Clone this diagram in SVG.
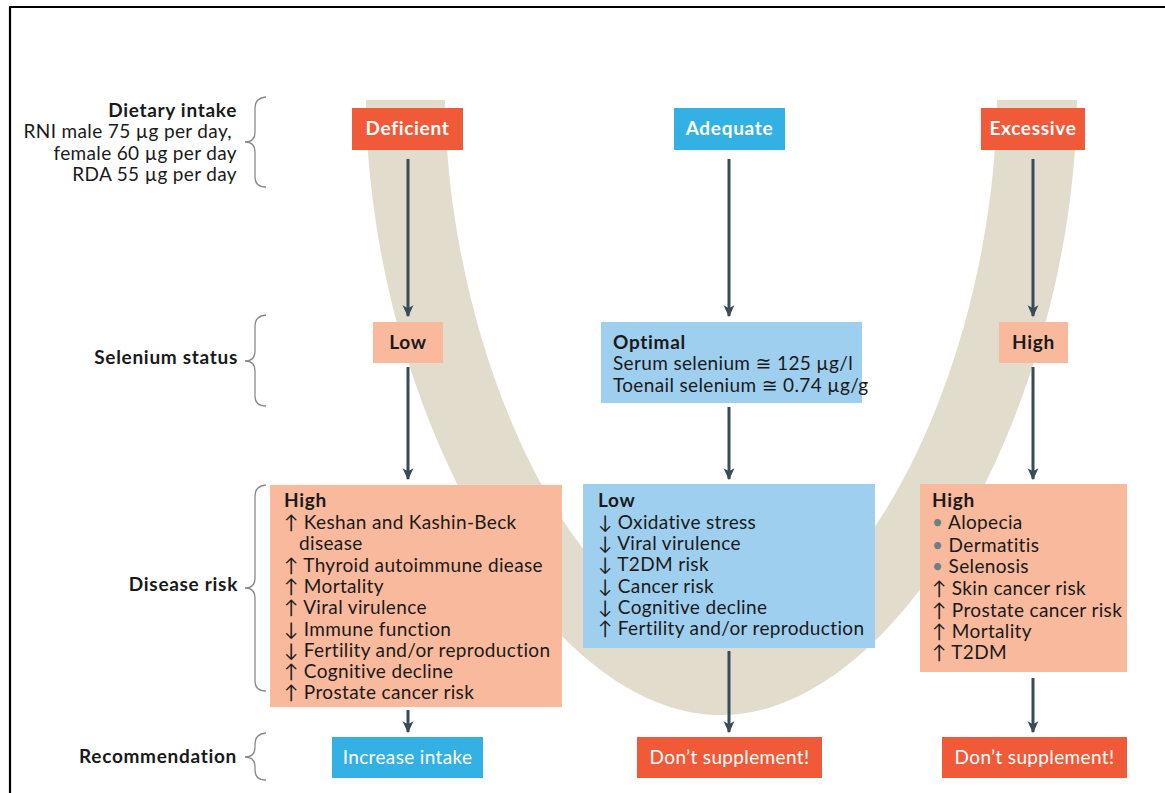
<svg xmlns="http://www.w3.org/2000/svg" width="1165" height="793" viewBox="0 0 1165 793">
<defs>
<marker id="ah" markerUnits="userSpaceOnUse" markerWidth="12" markerHeight="12" viewBox="0 0 10 10" refX="9" refY="5" orient="auto">
<path d="M0,0.5 L10,5 L0,9.5 L2.5,5 z" fill="#394b57"/>
</marker>
</defs>
<style>
text{font-family:Lato,"Open Sans","DejaVu Sans",sans-serif;font-size:19px;letter-spacing:0.35px;fill:#1a1a1a}
.b{font-weight:bold;letter-spacing:0.7px}
.w{fill:#ffffff}
.lab{font-weight:bold;letter-spacing:0.7px;text-anchor:end}
.brace{fill:none;stroke:#8a8a8a;stroke-width:1.3}
.con line{stroke:#394b57;stroke-width:3}
.red{fill:#f05a38}
.blue{fill:#33b0e4}
.sal{fill:#f9b99c}
.lb{fill:#9fcfee}
.dot{fill:#6f7f86}
.c{text-anchor:middle}
</style>
<rect width="1165" height="793" fill="#ffffff"/>
<path d="M9,7 H1165 M10,7 V793" stroke="#000" stroke-width="2.2" fill="none"/>

<!-- U-shaped band -->
<path id="band" d="M366,100 C368,400 540,715 721,715 C902,715 1074,400 1077,100 L997,100 C994,360 862,635 721,635 C580,635 448,360 445,100 Z" fill="#e2dccc"/>

<!-- Left labels -->
<g id="label-dietary">
<text class="lab" x="237" y="117">Dietary intake</text>
<text x="232" y="138" text-anchor="end">RNI male 75 µg per day,</text>
<text x="237" y="160" text-anchor="end">female 60 µg per day</text>
<text x="237" y="181" text-anchor="end">RDA 55 µg per day</text>
<path class="brace" d="M266,97 Q255,98 255,108 V132 Q255,142 245,142 Q255,142 255,152 V177 Q255,187 266,187"/>
</g>
<g id="label-status">
<text class="lab" x="238" y="364">Selenium status</text>
<path class="brace" d="M266,315 Q255,316 255,326 V351 Q255,361 245,361 Q255,361 255,371 V396 Q255,406 266,406"/>
</g>
<g id="label-risk">
<text class="lab" x="238" y="591">Disease risk</text>
<path class="brace" d="M266,485 Q255,486 255,496 V578 Q255,588 245,588 Q255,588 255,598 V681 Q255,691 266,691"/>
</g>
<g id="label-rec">
<text class="lab" x="237" y="763">Recommendation</text>
<path class="brace" d="M266,733 Q255,734 255,744 V747 Q255,757 245,757 Q255,757 255,767 V770 Q255,780 266,780"/>
</g>

<!-- Connectors -->
<g id="connectors" class="con">
<line x1="408" y1="159" x2="408" y2="316" marker-end="url(#ah)"/>
<line x1="729" y1="159" x2="729" y2="316" marker-end="url(#ah)"/>
<line x1="1033" y1="159" x2="1033" y2="316" marker-end="url(#ah)"/>
<line x1="408" y1="367" x2="408" y2="479" marker-end="url(#ah)"/>
<line x1="729" y1="407" x2="729" y2="479" marker-end="url(#ah)"/>
<line x1="1033" y1="367" x2="1033" y2="479" marker-end="url(#ah)"/>
<line x1="408" y1="710" x2="408" y2="732" marker-end="url(#ah)"/>
<line x1="729" y1="651" x2="729" y2="732" marker-end="url(#ah)"/>
<line x1="1033" y1="678" x2="1033" y2="732" marker-end="url(#ah)"/>
</g>

<!-- Intake row -->
<g id="deficient">
<rect class="red" x="352" y="108" width="111" height="42"/>
<text class="b w c" x="407.5" y="135">Deficient</text>
</g>
<g id="adequate">
<rect class="blue" x="674" y="108" width="111" height="42"/>
<text class="b w c" x="729.5" y="135">Adequate</text>
</g>
<g id="excessive">
<rect class="red" x="981" y="108" width="104" height="42"/>
<text class="b w c" x="1033" y="135">Excessive</text>
</g>

<!-- Status row -->
<g id="status-low">
<rect class="sal" x="373" y="322" width="70" height="41"/>
<text class="b c" x="408" y="349">Low</text>
</g>
<g id="status-optimal">
<rect class="lb" x="601" y="322" width="261" height="81"/>
<text class="b" x="613" y="349">Optimal</text>
<text x="613" y="370">Serum selenium ≅ 125 µg/l</text>
<text x="613" y="392">Toenail selenium ≅ 0.74 µg/g</text>
</g>
<g id="status-high">
<rect class="sal" x="999" y="322" width="69" height="41"/>
<text class="b c" x="1033.5" y="349">High</text>
</g>

<!-- Disease risk row -->
<g id="risk-deficient">
<rect class="sal" x="270" y="485" width="292" height="222"/>
<text class="b" x="284" y="507">High</text>
<text x="284" y="528.5">↑ Keshan and Kashin-Beck</text>
<text x="299" y="550">disease</text>
<text x="284" y="571.5">↑ Thyroid autoimmune diease</text>
<text x="284" y="593">↑ Mortality</text>
<text x="284" y="614">↑ Viral virulence</text>
<text x="284" y="635.5">↓ Immune function</text>
<text x="284" y="657">↓ Fertility and/or reproduction</text>
<text x="284" y="678">↑ Cognitive decline</text>
<text x="284" y="699">↑ Prostate cancer risk</text>
</g>
<g id="risk-adequate">
<rect class="lb" x="583" y="484" width="292" height="164"/>
<text class="b" x="598" y="507">Low</text>
<text x="598" y="528.5">↓ Oxidative stress</text>
<text x="598" y="550">↓ Viral virulence</text>
<text x="598" y="571">↓ T2DM risk</text>
<text x="598" y="592.5">↓ Cancer risk</text>
<text x="598" y="613.5">↓ Cognitive decline</text>
<text x="598" y="635">↑ Fertility and/or reproduction</text>
</g>
<g id="risk-excessive">
<rect class="sal" x="920" y="484" width="207" height="188"/>
<text class="b" x="932" y="507">High</text>
<text x="932" y="529"><tspan class="dot">•</tspan> Alopecia</text>
<text x="932" y="551.5"><tspan class="dot">•</tspan> Dermatitis</text>
<text x="932" y="573"><tspan class="dot">•</tspan> Selenosis</text>
<text x="932" y="595">↑ Skin cancer risk</text>
<text x="932" y="616.5">↑ Prostate cancer risk</text>
<text x="932" y="637.5">↑ Mortality</text>
<text x="932" y="658.5">↑ T2DM</text>
</g>

<!-- Recommendation row -->
<g id="rec-increase">
<rect class="blue" x="332" y="737" width="151" height="41"/>
<text class="w c" x="407.5" y="764">Increase intake</text>
</g>
<g id="rec-adequate">
<rect class="red" x="637" y="737" width="185" height="41"/>
<text class="w c" x="729.5" y="764">Don’t supplement!</text>
</g>
<g id="rec-excessive">
<rect class="red" x="942" y="737" width="185" height="41"/>
<text class="w c" x="1034.5" y="764">Don’t supplement!</text>
</g>
</svg>
